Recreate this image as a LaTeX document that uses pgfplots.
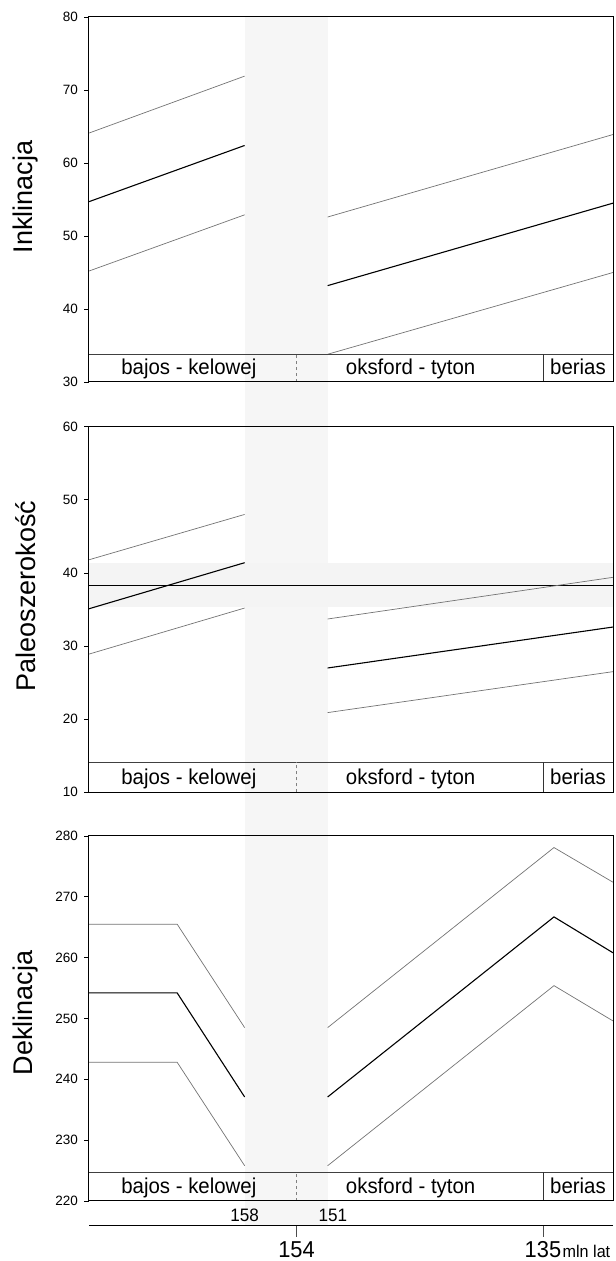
\documentclass[border=0pt]{standalone}
\usepackage{fontspec}
\setmainfont{Liberation Sans}
\newfontfamily\cond[FakeStretch=0.95]{Liberation Sans}
\usepackage{pgfplots}
\pgfplotsset{compat=1.18}
\definecolor{bandgray}{gray}{0.963}
\definecolor{hbandgray}{gray}{0.958}
\definecolor{envgray}{gray}{0.45}

\pgfplotstableread{
x y
170 64.1
158 71.9
}\IupL
\pgfplotstableread{
x y
170 54.7
158 62.4
}\ImidL
\pgfplotstableread{
x y
170 45.2
158 52.9
}\IlowL
\pgfplotstableread{
x y
151.6 52.6
129.6 63.9
}\IupR
\pgfplotstableread{
x y
151.6 43.2
129.6 54.5
}\ImidR
\pgfplotstableread{
x y
151.6 33.8
129.6 45.0
}\IlowR

\pgfplotstableread{
x y
170 41.8
158 48.0
}\PupL
\pgfplotstableread{
x y
170 35.1
158 41.4
}\PmidL
\pgfplotstableread{
x y
170 28.9
158 35.2
}\PlowL
\pgfplotstableread{
x y
151.6 33.7
129.6 39.4
}\PupR
\pgfplotstableread{
x y
151.6 27.0
129.6 32.6
}\PmidR
\pgfplotstableread{
x y
151.6 20.9
129.6 26.5
}\PlowR

\pgfplotstableread{
x y
170 265.5
163.2 265.5
158 248.5
}\DupL
\pgfplotstableread{
x y
170 254.2
163.2 254.2
158 237.1
}\DmidL
\pgfplotstableread{
x y
170 242.8
163.2 242.8
158 225.8
}\DlowL
\pgfplotstableread{
x y
151.6 248.5
134.15 278.1
129.6 272.4
}\DupR
\pgfplotstableread{
x y
151.6 237.1
134.15 266.7
129.6 260.8
}\DmidR
\pgfplotstableread{
x y
151.6 225.8
134.15 255.4
129.6 249.6
}\DlowR

\pgfplotsset{
  panel/.style={
    scale only axis, width=524bp,
    xmin=129.6, xmax=170, x dir=reverse,
    xtick=\empty,
    ytick pos=left, tick align=outside, major tick length=4.5bp,
    axis line style={black, line width=1bp},
    ytick style={black, line width=0.8bp},
    /pgf/number format/assume math mode=true,
    yticklabel style={font=\fontsize{13.5bp}{15bp}\selectfont, xshift=-3bp},
    every axis y label/.style={rotate=90, anchor=base, font=\fontsize{27bp}{30bp}\selectfont},
    clip=false, axis on top,
  },
  env/.style={envgray, line width=0.7bp, no marks},
  mid/.style={black, line width=1.1bp, no marks},
}

\newcommand{\stagebox}[3]{%
  \draw[black!75, line width=0.7bp] (axis cs:170,#1) -- (axis cs:129.6,#1);
  \draw[gray, dashed, line width=0.6bp] (axis cs:154,#2) -- (axis cs:154,#1);
  \draw[black!80, line width=0.7bp] (axis cs:135,#2) -- (axis cs:135,#1);
  \node[anchor=base, inner sep=0pt, font=\cond\fontsize{21.5bp}{24bp}\selectfont] at (axis cs:162.3,#3) {bajos - kelowej};
  \node[anchor=base, inner sep=0pt, font=\cond\fontsize{21.5bp}{24bp}\selectfont] at (axis cs:145.2,#3) {oksford - tyton};
  \node[anchor=base, inner sep=0pt, font=\cond\fontsize{21.5bp}{24bp}\selectfont] at (axis cs:132.3,#3) {berias};
}

\begin{document}
\begin{tikzpicture}
\useasboundingbox (0,0) rectangle (616bp,1261bp);

% time axis with the grey interval band
\begin{axis}[
  at={(89bp,35.3bp)}, anchor=south west,
  scale only axis, width=524bp, height=1208.7bp,
  xmin=129.6, xmax=170, x dir=reverse, ymin=0, ymax=1,
  axis x line*=bottom, axis y line=none,
  x axis line style={-, black, line width=1bp},
  xtick={154,135},
  xticklabels={154,{135\rlap{\kern1.5bp\fontsize{17bp}{19bp}\selectfont mln lat}}},
  tick align=outside, major tick length=11bp,
  xtick style={black!70, line width=0.7bp},
  xticklabel style={font=\cond\fontsize{23bp}{25bp}\selectfont, inner sep=0pt, yshift=-4.5bp},
  clip=false, axis on top,
]
\fill[bandgray] (axis cs:158,0) rectangle (axis cs:151.6,1);
\node[anchor=base, inner sep=0pt, font=\cond\fontsize{18bp}{20bp}\selectfont] at (axis cs:158,0.0034) {158};
\node[anchor=base, inner sep=0pt, font=\cond\fontsize{18bp}{20bp}\selectfont] at (axis cs:151.2,0.0034) {151};
\end{axis}

% Inklinacja
\begin{axis}[panel,
  at={(89bp,879bp)}, anchor=south west, height=365bp,
  ymin=30, ymax=80, ytick={30,40,...,80},
  ylabel={Inklinacja},
  ylabel style={at={(axis description cs:-0.107,0.507)}},
]
\addplot[env] table {\IupL};
\addplot[mid] table {\ImidL};
\addplot[env] table {\IlowL};
\addplot[env] table {\IupR};
\addplot[mid] table {\ImidR};
\addplot[env] table {\IlowR};
\stagebox{33.8}{30}{31.0}
\end{axis}

% Paleoszerokosc
\begin{axis}[panel,
  at={(89bp,468.7bp)}, anchor=south west, height=365.6bp,
  ymin=10, ymax=60, ytick={10,20,...,60},
  ylabel={Paleoszerokość},
  ylabel style={at={(axis description cs:-0.103,0.537)}},
]
\fill[hbandgray] (axis cs:170,35.3) rectangle (axis cs:129.6,41.35);
\addplot[black, line width=0.9bp, no marks] coordinates {(170,38.35) (129.6,38.35)};
\addplot[env] table {\PupL};
\addplot[mid] table {\PmidL};
\addplot[env] table {\PlowL};
\addplot[env] table {\PupR};
\addplot[mid] table {\PmidR};
\addplot[env] table {\PlowR};
\stagebox{14.1}{10}{11.0}
\end{axis}

% Deklinacja
\begin{axis}[panel,
  at={(89bp,60bp)}, anchor=south west, height=365bp,
  ymin=220, ymax=280, ytick={220,230,...,280},
  ylabel={Deklinacja},
  ylabel style={at={(axis description cs:-0.107,0.515)}},
]
\addplot[env] table {\DupL};
\addplot[mid] table {\DmidL};
\addplot[env] table {\DlowL};
\addplot[env] table {\DupR};
\addplot[mid] table {\DmidR};
\addplot[env] table {\DlowR};
\stagebox{224.7}{220}{221.2}
\end{axis}
\end{tikzpicture}
\end{document}
